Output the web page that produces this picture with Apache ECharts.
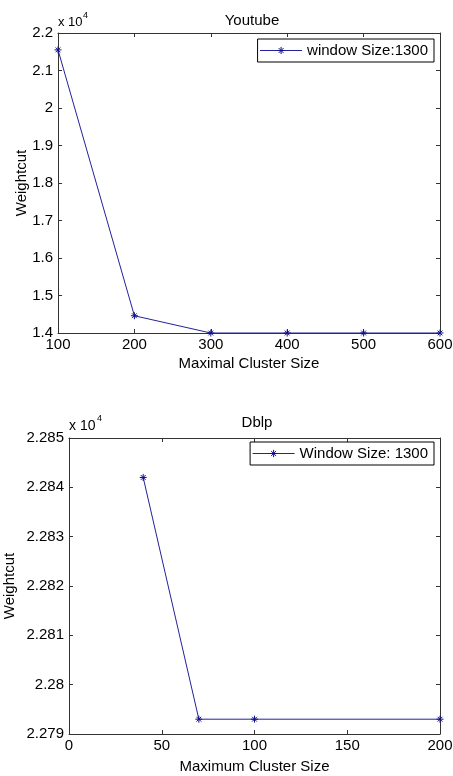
<!DOCTYPE html>
<html>
<head>
<meta charset="utf-8">
<script src="https://cdn.jsdelivr.net/npm/echarts@6/dist/echarts.min.js"></script>
<style>html,body{margin:0;padding:0;background:#fff}#c{width:453px;height:776px}</style>
</head>
<body>
<div id="c"></div>
<script>
// Top chart: Youtube
const ytTitle = 'Youtube';
const ytX = [100, 200, 300, 400, 500, 600];
const ytY = [21550, 14460, 14000, 14000, 14000, 14000];
const ytLegend = 'window Size:1300';
const ytXName = 'Maximal Cluster Size';
// Bottom chart: Dblp
const dbTitle = 'Dblp';
const dbX = [40, 70, 100, 200];
const dbY = [22842, 22793, 22793, 22793];
const dbLegend = 'Window Size: 1300';
const dbXName = 'Maximum Cluster Size';
const yName = 'Weightcut';

const FONT = '"Liberation Sans", Arial, sans-serif';
const LINE = '#22229a';
const AX = '#333333';
const STAR = 'path://M5,0L5,10M0,5L10,5M1.6,1.6L8.4,8.4M1.6,8.4L8.4,1.6';

function fmt(v) { return String(parseFloat((v / 10000).toFixed(4))); }

function xAx(grid, min, max, interval, name, gap, top) {
  return {
    type: 'value', gridIndex: grid, min: min, max: max, interval: interval,
    position: top ? 'top' : 'bottom',
    name: top ? '' : name, nameLocation: 'middle', nameGap: gap, nameMoveOverlap: false,
    nameTextStyle: { fontFamily: FONT, fontSize: 15, color: '#000' },
    axisLine: { show: true, onZero: false, lineStyle: { color: AX, width: 1 } },
    axisTick: { show: true, inside: true, length: 4, lineStyle: { color: AX } },
    axisLabel: { show: !top, margin: 4, fontFamily: FONT, fontSize: 15, color: '#000' },
    splitLine: { show: false }
  };
}
function yAx(grid, min, max, interval, gap, right) {
  return {
    type: 'value', gridIndex: grid, min: min, max: max, interval: interval,
    position: right ? 'right' : 'left',
    name: right ? '' : yName, nameLocation: 'middle', nameGap: gap, nameRotate: 90, nameMoveOverlap: false,
    nameTextStyle: { fontFamily: FONT, fontSize: 15, color: '#000' },
    axisLine: { show: true, onZero: false, lineStyle: { color: AX, width: 1 } },
    axisTick: { show: true, inside: true, length: 4, lineStyle: { color: AX } },
    axisLabel: { show: !right, margin: 5, fontFamily: FONT, fontSize: 15, color: '#000', formatter: fmt },
    splitLine: { show: false }
  };
}
function legendCfg(name, top) {
  return {
    data: [name], right: 19, top: top, orient: 'horizontal',
    backgroundColor: '#fff', borderColor: '#000', borderWidth: 1, borderRadius: 0,
    padding: [4, 6, 4, 2], itemWidth: 42, itemHeight: 9, itemGap: 0,
    lineStyle: { width: 1 },
    itemStyle: { borderWidth: 1 },
    textStyle: { fontFamily: FONT, fontSize: 15, color: '#000' },
    selectedMode: false
  };
}
function series(name, xs, ys, xi, yi) {
  return {
    name: name, type: 'line', xAxisIndex: xi, yAxisIndex: yi,
    data: xs.map((x, i) => [x, ys[i]]),
    symbol: STAR, symbolSize: 7, showSymbol: true, showAllSymbol: true,
    lineStyle: { color: LINE, width: 1 },
    itemStyle: { color: LINE, borderColor: '#10108a', borderWidth: 1 },
    emphasis: { disabled: true }, animation: false, clip: false
  };
}

const chart = echarts.init(document.getElementById('c'), null, { renderer: 'canvas' });
chart.setOption({
  animation: false,
  backgroundColor: '#fff',
  title: [
    { text: ytTitle, left: 247, top: 8, textAlign: 'center', textStyle: { fontFamily: FONT, fontSize: 15, fontWeight: 'normal', color: '#000' } },
    { text: dbTitle, left: 252, top: 410, textAlign: 'center', textStyle: { fontFamily: FONT, fontSize: 15, fontWeight: 'normal', color: '#000' } }
  ],
  legend: [legendCfg(ytLegend, 39), legendCfg(dbLegend, 442)],
  grid: [
    { left: 58, right: 13, top: 33, height: 300, containLabel: false, outerBoundsMode: 'none' },
    { left: 69, right: 13, top: 438, height: 296, containLabel: false, outerBoundsMode: 'none' }
  ],
  xAxis: [
    xAx(0, 100, 600, 100, ytXName, 23, false),
    xAx(0, 100, 600, 100, '', 0, true),
    xAx(1, 0, 200, 50, dbXName, 25, false),
    xAx(1, 0, 200, 50, '', 0, true)
  ],
  yAxis: [
    yAx(0, 14000, 22000, 1000, 29, false),
    yAx(0, 14000, 22000, 1000, 0, true),
    yAx(1, 22790, 22850, 10, 52, false),
    yAx(1, 22790, 22850, 10, 0, true)
  ],
  series: [
    series(ytLegend, ytX, ytY, 0, 0),
    series(dbLegend, dbX, dbY, 2, 2)
  ],
  graphic: [
    { type: 'text', left: 58, top: 16, style: { text: 'x 10', font: '13px ' + FONT, fill: '#000' } },
    { type: 'text', left: 83, top: 11, style: { text: '4', font: '9px ' + FONT, fill: '#000' } },
    { type: 'text', left: 69, top: 419, style: { text: 'x 10', font: '14px ' + FONT, fill: '#000' } },
    { type: 'text', left: 97, top: 414, style: { text: '4', font: '9px ' + FONT, fill: '#000' } }
  ]
});
</script>
</body>
</html>
